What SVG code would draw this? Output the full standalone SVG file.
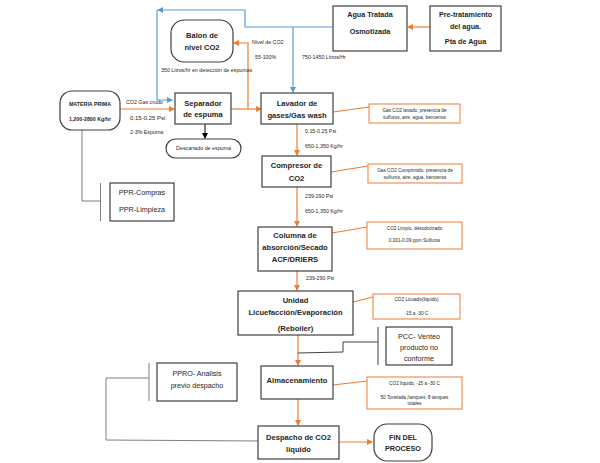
<svg xmlns="http://www.w3.org/2000/svg" width="600" height="463" viewBox="0 0 600 463">
<defs>
<marker id="ao" markerWidth="6" markerHeight="6" refX="5" refY="3" orient="auto" markerUnits="userSpaceOnUse"><path d="M0,0 L6,3 L0,6 z" fill="#ED7D31"/></marker>
<marker id="ab" markerWidth="6" markerHeight="6" refX="5" refY="3" orient="auto" markerUnits="userSpaceOnUse"><path d="M0,0 L6,3 L0,6 z" fill="#5B9BD5"/></marker>
<marker id="ak" markerWidth="6" markerHeight="6" refX="5" refY="3" orient="auto" markerUnits="userSpaceOnUse"><path d="M0,0 L6,3 L0,6 z" fill="#000"/></marker>
</defs>
<style>
.box{fill:#fff;stroke:#404040;stroke-width:1.2}
.call{fill:#fff;stroke:#ED7D31;stroke-width:1}
.b{font-family:"Liberation Sans",Arial,sans-serif;font-weight:bold;font-size:7.6px;fill:#262626;text-anchor:middle}
.n{font-family:"Liberation Sans",Arial,sans-serif;font-size:7.2px;fill:#262626;text-anchor:middle}
.s{font-family:"Liberation Sans",Arial,sans-serif;font-size:5.3px;fill:#262626}
.sc{font-family:"Liberation Sans",Arial,sans-serif;font-size:4.7px;fill:#262626;text-anchor:middle}
.m{font-family:"Liberation Sans",Arial,sans-serif;font-size:6px;fill:#262626}
.o{fill:none;stroke:#ED7D31;stroke-width:1.2}
.bl{fill:none;stroke:#5B9BD5;stroke-width:1.2}
.g{fill:none;stroke:#7F7F7F;stroke-width:1}
.k{fill:none;stroke:#404040;stroke-width:1}
</style>
<g id="connectors">
<path class="o" d="M120,109 L174,109" marker-end="url(#ao)"/>
<path class="o" d="M231,109 L261,109" marker-end="url(#ao)"/>
<path class="o" d="M248,109 L248,43 L234,43" marker-end="url(#ao)"/>
<path class="bl" d="M333,27 L245,27 L245,10 L158,10" marker-end="url(#ab)"/>
<path class="bl" d="M157,10 L157,100 L172,100" marker-end="url(#ab)"/>
<path class="bl" d="M293,27 L293,92" marker-end="url(#ab)"/>
<path class="o" d="M430,27 L408,27" marker-end="url(#ao)"/>
<path d="M205,124 L205,138" fill="none" stroke="#000" stroke-width="1" marker-end="url(#ak)"/>
<path class="o" d="M297,124 L297,155" marker-end="url(#ao)"/>
<path class="o" d="M297,187 L297,226" marker-end="url(#ao)"/>
<path class="o" d="M297,271 L297,290" marker-end="url(#ao)"/>
<path class="o" d="M298,335 L298,365" marker-end="url(#ao)"/>
<path class="o" d="M298,399 L298,425" marker-end="url(#ao)"/>
<path class="o" d="M339,442 L372,442" marker-end="url(#ao)"/>
<path class="o" d="M333,112 L369,107"/>
<path class="o" d="M331,172 L368,166"/>
<path class="o" d="M332,233 L367,227"/>
<path class="o" d="M353,302 L373,297"/>
<path class="o" d="M333,385 L367,381"/>
<path class="g" d="M82,130 L82,201 L100.5,201"/>
<path class="g" d="M100.5,183 L100.5,221"/>
<path class="k" d="M298,353 L343,352 L343,342 L378,342"/>
<path class="k" d="M378,327 L378,365"/>
<path class="g" d="M149,363 L149,401"/>
<path class="g" d="M149,378 L106,378 L106,440 L258,441"/>
</g>
<g id="materia-prima">
<rect class="box" x="60" y="91" width="60" height="39" rx="12"/>
<text class="s" x="90" y="106" text-anchor="middle" font-weight="bold">MATERIA PRIMA</text>
<text class="s" x="90" y="121" text-anchor="middle" font-weight="bold">1,200-2800 Kg/hr</text>
</g>
<g id="labels">
<text class="s" x="126" y="104">CO2 Gas crudo</text>
<text class="m" x="130" y="120">0.15-0.25 Psi</text>
<text class="s" x="130" y="134">2-3% Espuma</text>
<text class="s" x="161" y="72">350 Litros/hr en detección de espumas</text>
<text class="s" x="252" y="44">Nivel de CO2</text>
<text class="s" x="255" y="59">55-100%</text>
<text class="s" x="302" y="59">750-1450 Litros/Hr</text>
<text class="s" x="305" y="133">0.15-0.25 Psi</text>
<text class="s" x="305" y="148">650-1,350 Kg/hr</text>
<text class="s" x="305" y="198">239-290 Psi</text>
<text class="s" x="305" y="213">650-1,350 Kg/hr</text>
<text class="s" x="306" y="280">239-290 Psi</text>
</g>
<g id="separador">
<rect class="box" x="175" y="93" width="56" height="31"/>
<text class="b" x="203" y="106">Separador</text>
<text class="b" x="203" y="117">de espuma</text>
</g>
<g id="descartado">
<rect class="box" x="166" y="139" width="75" height="19" rx="9.5"/>
<text class="s" x="203.5" y="150" text-anchor="middle">Descartado de espuma</text>
</g>
<g id="balon">
<rect class="box" x="171" y="20" width="62" height="42" rx="13"/>
<text class="b" x="202" y="38">Balon de</text>
<text class="b" x="202" y="50">nivel CO2</text>
</g>
<g id="agua-tratada">
<rect class="box" x="333" y="6" width="74" height="45"/>
<text class="n" x="370" y="17" font-weight="bold">Agua Tratada</text>
<text class="n" x="370" y="34" font-weight="bold">Osmotizada</text>
</g>
<g id="pretratamiento">
<rect class="box" x="430" y="6" width="71" height="45"/>
<text class="n" x="465.5" y="17" font-weight="bold">Pre-tratamiento</text>
<text class="n" x="465.5" y="29" font-weight="bold">del agua.</text>
<text class="n" x="465.5" y="44" font-weight="bold">Pta de Agua</text>
</g>
<g id="lavador">
<rect class="box" x="261" y="93" width="72" height="31"/>
<text class="b" x="297" y="106">Lavador de</text>
<text class="b" x="297" y="118">gases/Gas wash</text>
</g>
<g id="callout-lavador">
<rect class="call" x="369" y="104" width="91" height="19"/>
<text class="sc" x="414.5" y="112">Gas CO2 lavado, presencia de</text>
<text class="sc" x="414.5" y="119">sulfuros, aire, agua, bencenos</text>
</g>
<g id="compresor">
<rect class="box" x="262" y="156" width="69" height="31"/>
<text class="b" x="296.5" y="168">Compresor de</text>
<text class="b" x="296.5" y="181">CO2</text>
</g>
<g id="callout-compresor">
<rect class="call" x="368" y="164" width="94" height="19"/>
<text class="sc" x="415" y="172">Gas CO2 Comprimido, presencia de</text>
<text class="sc" x="415" y="179">sulfuros, aire, agua, bencenos</text>
</g>
<g id="columna">
<rect class="box" x="258" y="227" width="74" height="44"/>
<text class="b" x="295" y="238">Columna de</text>
<text class="b" x="295" y="250">absorción/Secado</text>
<text class="b" x="295" y="262">ACF/DRIERS</text>
</g>
<g id="callout-columna">
<rect class="call" x="367" y="222" width="95" height="27"/>
<text class="sc" x="414.5" y="230">CO2 Limpio, desodorizado</text>
<text class="sc" x="414.5" y="242">0.001-0.09 ppm Sulfuros</text>
</g>
<g id="unidad">
<rect class="box" x="238" y="291" width="115" height="44"/>
<text class="b" x="295.5" y="303">Unidad</text>
<text class="b" x="295.5" y="315">Licuefacción/Evaporación</text>
<text class="b" x="295.5" y="331">(Reboiler)</text>
</g>
<g id="callout-unidad">
<rect class="call" x="373" y="294" width="87" height="25"/>
<text class="sc" x="416.5" y="301">CO2 Licuado(liquido)</text>
<text class="sc" x="416.5" y="315">-15 a -30 C</text>
</g>
<g id="pcc">
<rect class="box" x="386" y="327" width="66" height="38"/>
<text class="n" x="419" y="339">PCC- Venteo</text>
<text class="n" x="419" y="350">producto no</text>
<text class="n" x="419" y="361">conforme</text>
</g>
<g id="ppr">
<rect class="box" x="110" y="183" width="64" height="38"/>
<text class="n" x="142" y="194.5">PPR-Compras</text>
<text class="n" x="142" y="211.5">PPR-Limpieza</text>
</g>
<g id="almacenamiento">
<rect class="box" x="261" y="366" width="72" height="33"/>
<text class="b" x="297" y="383">Almacenamiento</text>
</g>
<g id="callout-almacenamiento">
<rect class="call" x="367" y="377" width="95" height="32"/>
<text class="sc" x="414.5" y="385">CO2 líquido, -15 a -30 C</text>
<text class="sc" x="414.5" y="399">50 Tonelada /tanques; 8 tanques</text>
<text class="sc" x="414.5" y="405">totales</text>
</g>
<g id="ppro">
<rect class="box" x="157" y="363" width="80" height="38"/>
<text class="n" x="197" y="375.5">PPRO- Analisis</text>
<text class="n" x="197" y="387.5">previo despacho</text>
</g>
<g id="despacho">
<rect class="box" x="258" y="426" width="81" height="33"/>
<text class="b" x="298.5" y="440">Despacho de CO2</text>
<text class="b" x="298.5" y="452">liquido</text>
</g>
<g id="fin">
<rect class="box" x="374" y="424" width="58" height="37" rx="13"/>
<text class="n" x="403" y="440" font-size="6.4" font-weight="bold">FIN DEL</text>
<text class="n" x="403" y="451" font-size="6.4" font-weight="bold">PROCESO</text>
</g>
</svg>
